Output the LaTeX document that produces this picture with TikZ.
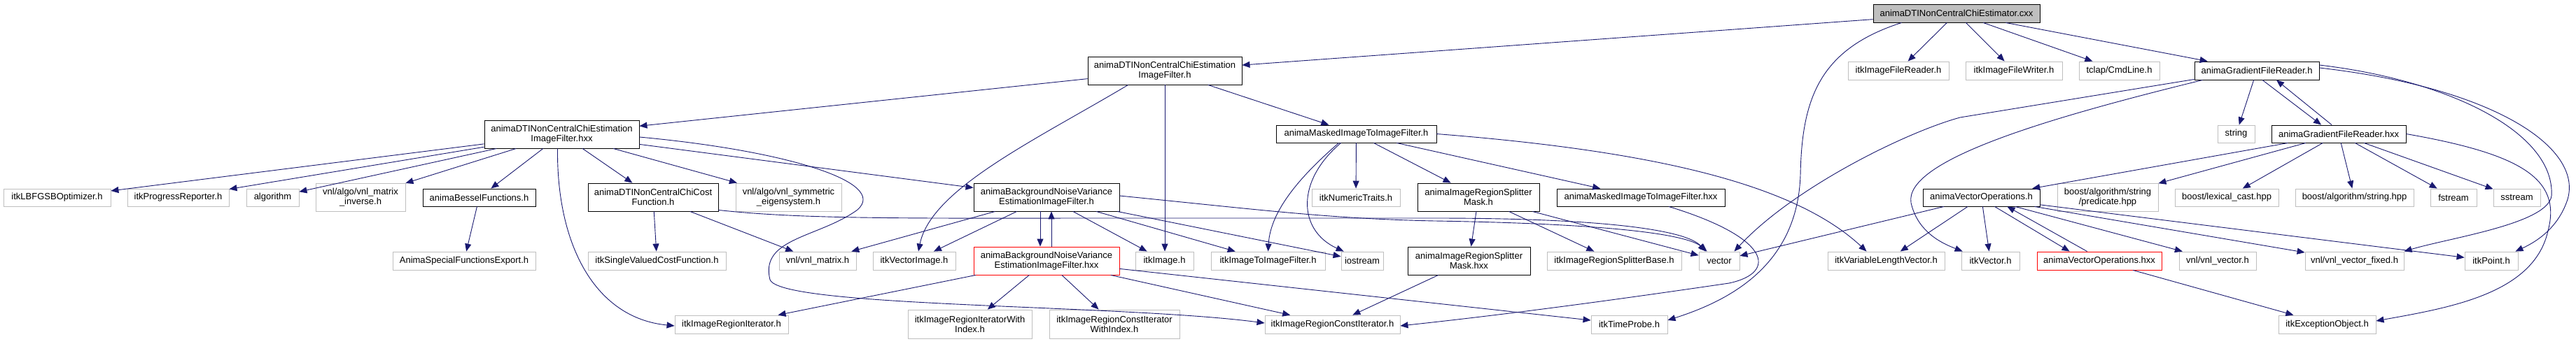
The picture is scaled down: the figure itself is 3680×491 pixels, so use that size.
\documentclass[tikz,border=0pt]{standalone}
\usepackage{fontspec}
\setmainfont{Liberation Sans}
\usetikzlibrary{arrows.meta,calc}
\definecolor{edgeblue}{HTML}{191970}
\definecolor{extgray}{HTML}{BFBFBF}
\definecolor{truncred}{HTML}{FF0000}
\newcommand\mkbox[7]{\node[#1, minimum width={#4-#3}, minimum height={#6-#5}] (#2) at ({(#3+#4)/2},{(#5+#6)/2}) {#7};}
\begin{document}
\begin{tikzpicture}[x=1pt,y=-1pt,
  basebox/.style={rectangle, inner sep=0pt, align=center, font=\fontsize{13}{14}\selectfont, fill=white},
  ext/.style={basebox, draw=extgray, line width=0.9pt},
  doc/.style={basebox, draw=black, line width=0.9pt},
  trunc/.style={basebox, draw=truncred, line width=0.9pt},
  rootbox/.style={basebox, draw=black, line width=0.9pt, fill=extgray},
  dep/.style={draw=edgeblue, line width=0.9pt, -{Triangle[length=11pt,width=9pt]}}]
\useasboundingbox (0,0) rectangle (3680,491);
\fill[white] (0,0) rectangle (3680,491);
% nodes
\mkbox{rootbox}{root}{2676}{2914}{6}{32}{animaDTINonCentralChiEstimator.cxx}
\mkbox{doc}{fh}{1554}{1774}{81}{121}{animaDTINonCentralChiEstimation\\ImageFilter.h}
\mkbox{doc}{fhxx}{692}{913}{172}{212}{animaDTINonCentralChiEstimation\\ImageFilter.hxx}
\mkbox{ext}{lbfgsb}{5}{158}{270}{295}{itkLBFGSBOptimizer.h}
\mkbox{ext}{progress}{182}{327}{270}{295}{itkProgressReporter.h}
\mkbox{ext}{algo}{352}{427}{270}{295}{algorithm}
\mkbox{ext}{vnlinv}{451}{579}{262}{302}{vnl/algo/vnl\_matrix\\\_inverse.h}
\mkbox{doc}{bessel}{604}{765}{270}{295}{animaBesselFunctions.h}
\mkbox{ext}{specexp}{561}{765}{360}{386}{AnimaSpecialFunctionsExport.h}
\mkbox{doc}{cost}{840}{1026}{262}{302}{animaDTINonCentralChiCost\\Function.h}
\mkbox{ext}{singlecost}{840}{1037}{360}{386}{itkSingleValuedCostFunction.h}
\mkbox{ext}{symeig}{1051}{1202}{262}{302}{vnl/algo/vnl\_symmetric\\\_eigensystem.h}
\mkbox{doc}{bnvh}{1391}{1599}{262}{302}{animaBackgroundNoiseVariance\\EstimationImageFilter.h}
\mkbox{trunc}{bnvhxx}{1391}{1599}{353}{393}{animaBackgroundNoiseVariance\\EstimationImageFilter.hxx}
\mkbox{ext}{vnlmat}{1113}{1223}{360}{386}{vnl/vnl\_matrix.h}
\mkbox{ext}{vecimg}{1247}{1365}{360}{386}{itkVectorImage.h}
\mkbox{ext}{itkimg}{1622}{1705}{360}{386}{itkImage.h}
\mkbox{ext}{itoi}{1730}{1893}{360}{386}{itkImageToImageFilter.h}
\mkbox{ext}{iostream}{1916}{1976}{360}{386}{iostream}
\mkbox{ext}{numtraits}{1874}{2000}{270}{295}{itkNumericTraits.h}
\mkbox{ext}{regit}{964}{1126}{451}{477}{itkImageRegionIterator.h}
\mkbox{ext}{regitidx}{1297}{1474}{443}{484}{itkImageRegionIteratorWith\\Index.h}
\mkbox{ext}{regcitidx}{1499}{1685}{443}{484}{itkImageRegionConstIterator\\WithIndex.h}
\mkbox{ext}{regcit}{1807}{2000}{451}{477}{itkImageRegionConstIterator.h}
\mkbox{doc}{mh}{1823}{2052}{179}{204}{animaMaskedImageToImageFilter.h}
\mkbox{doc}{splh}{2025}{2199}{262}{302}{animaImageRegionSplitter\\Mask.h}
\mkbox{doc}{mhxx}{2224}{2464}{270}{295}{animaMaskedImageToImageFilter.hxx}
\mkbox{doc}{splhxx}{2011}{2186}{353}{393}{animaImageRegionSplitter\\Mask.hxx}
\mkbox{ext}{splbase}{2210}{2402}{360}{386}{itkImageRegionSplitterBase.h}
\mkbox{ext}{vector}{2427}{2485}{360}{386}{vector}
\mkbox{ext}{vlv}{2611}{2778}{360}{386}{itkVariableLengthVector.h}
\mkbox{ext}{itkvec}{2802}{2885}{360}{386}{itkVector.h}
\mkbox{ext}{timeprobe}{2273}{2382}{451}{477}{itkTimeProbe.h}
\mkbox{ext}{freader}{2640}{2784}{88}{114}{itkImageFileReader.h}
\mkbox{ext}{fwriter}{2808}{2946}{88}{114}{itkImageFileWriter.h}
\mkbox{ext}{tclap}{2970}{3085}{88}{114}{tclap/CmdLine.h}
\mkbox{doc}{gfrh}{3135}{3313}{88}{114}{animaGradientFileReader.h}
\mkbox{ext}{string}{3168}{3221}{179}{204}{string}
\mkbox{doc}{gfrhxx}{3245}{3437}{179}{204}{animaGradientFileReader.hxx}
\mkbox{doc}{vech}{2747}{2914}{270}{295}{animaVectorOperations.h}
\mkbox{ext}{predicate}{2939}{3083}{262}{302}{boost/algorithm/string\\/predicate.hpp}
\mkbox{ext}{lexcast}{3107}{3255}{270}{295}{boost/lexical\_cast.hpp}
\mkbox{ext}{boostr}{3279}{3448}{270}{295}{boost/algorithm/string.hpp}
\mkbox{ext}{fstream}{3472}{3538}{270}{295}{fstream}
\mkbox{ext}{sstream}{3562}{3629}{270}{295}{sstream}
\mkbox{trunc}{vechxx}{2910}{3088}{360}{386}{animaVectorOperations.hxx}
\mkbox{ext}{vnlvec}{3113}{3223}{360}{386}{vnl/vnl\_vector.h}
\mkbox{ext}{vnlfix}{3293}{3434}{360}{386}{vnl/vnl\_vector\_fixed.h}
\mkbox{ext}{itkpoint}{3521}{3597}{360}{386}{itkPoint.h}
\mkbox{ext}{except}{3255}{3394}{451}{477}{itkExceptionObject.h}
% edges from root
\draw[dep] (root) -- (fh);
\draw[dep] (root) -- (freader);
\draw[dep] (root) -- (fwriter);
\draw[dep] (root) -- (tclap);
\draw[dep] (root) -- (gfrh);
\draw[dep] ($(root.south west)+(41,0)$) .. controls (2600,70) and (2574,140) .. (2572,250) .. controls (2568,380) and (2470,430) .. ($(timeprobe.east)+(0,-6)$);
% fh
\draw[dep] (fh) -- (fhxx);
\draw[dep] ($(fh.south west)+(58,0)$) .. controls (1480,200) and (1330,270) .. ($(vecimg.north)+(6,0)$);
\draw[dep] (fh.south) -- (fh.south |- itkimg.north);
\draw[dep] (fh) -- (mh);
% fhxx
\draw[dep] (fhxx) -- (lbfgsb);
\draw[dep] (fhxx) -- (progress);
\draw[dep] (fhxx) -- (algo);
\draw[dep] (fhxx) -- (vnlinv);
\draw[dep] (fhxx) -- (bessel);
\draw[dep] (fhxx) -- (cost);
\draw[dep] (fhxx) -- (symeig);
\draw[dep] (fhxx) -- (bnvh);
\draw[dep] ($(fhxx.south)+(-6,0)$) .. controls (795,350) and (850,455) .. ($(regit.west)+(0,2)$);
\draw[dep] ($(fhxx.east)+(0,4)$) .. controls (1120,215) and (1270,260) .. (1225,300) .. controls (1170,340) and (1085,340) .. (1100,400) .. controls (1115,440) and (1600,435) .. ($(regcit.west)+(0,-2)$);
% cost, bessel
\draw[dep] (bessel) -- (specexp);
\draw[dep] (cost) -- (singlecost);
\draw[dep] (cost) -- (vnlmat);
\draw[dep] ($(cost.south east)+(0,-2)$) .. controls (1150,314) and (1300,312) .. (1600,312) -- (2050,312) .. controls (2300,312) and (2410,330) .. ($(vector.north west)+(10,0)$);
% bnvh
\draw[dep] ($(bnvh.east)+(0,-2)$) .. controls (1800,300) and (1900,313) .. (2050,316) .. controls (2300,320) and (2410,335) .. ($(vector.north west)+(12,0)$);
\draw[dep] (bnvh) -- (vnlmat);
\draw[dep] (bnvh) -- (vecimg);
\draw[dep] (bnvh) -- (itkimg);
\draw[dep] (bnvh) -- (itoi);
\draw[dep] (bnvh) -- (iostream);
\draw[dep] ($(bnvh.south)+(-9,0)$) -- ($(bnvhxx.north)+(-9,0)$);
\draw[dep] ($(bnvhxx.north)+(7,0)$) -- ($(bnvh.south)+(7,0)$);
\draw[dep] (bnvhxx) -- (regit);
\draw[dep] (bnvhxx) -- (regitidx);
\draw[dep] (bnvhxx) -- (regcitidx);
\draw[dep] (bnvhxx) -- (regcit);
\draw[dep] (bnvhxx) -- (timeprobe);
% mh
\draw[dep] (mh) -- (numtraits);
\draw[dep] ($(mh.south)+(-25,0)$) .. controls (1860,250) and (1815,300) .. (itoi.north);
\draw[dep] ($(mh.south)+(-22,0)$) .. controls (1850,260) and (1855,330) .. ($(iostream.north west)+(4,0)$);
\draw[dep] (mh) -- (splh);
\draw[dep] (mh) -- (mhxx);
\draw[dep] (mh.east) .. controls (2350,215) and (2560,260) .. ($(vlv.north)+(-28,0)$);
\draw[dep] (splh) -- (splhxx);
\draw[dep] (splh) -- (splbase);
\draw[dep] (splh) -- (vector);
\draw[dep] (splhxx) -- (regcit);
\draw[dep] ($(mhxx.south)+(40,0)$) .. controls (2530,340) and (2540,390) .. (2470,405) .. controls (2300,430) and (2150,450) .. ($(regcit.east)+(0,2)$);
% gfrh
\draw[dep] ($(gfrh.south)+(8,0)$) -- ($(gfrhxx.north)+(-25,0)$);
\draw[dep] ($(gfrhxx.north)+(-10,0)$) -- ($(gfrh.south)+(28,0)$);
\draw[dep] (gfrh) -- (string);
\draw[dep] ($(gfrh.south west)+(0,-1)$) -- (2800,168) .. controls (2720,190) and (2560,270) .. ($(vector.north east)+(-8,0)$);
\draw[dep] ($(gfrh.south west)+(12,0)$) .. controls (2920,170) and (2720,230) .. (2730,290) .. controls (2740,335) and (2780,350) .. ($(itkvec.north west)+(2,0)$);
\draw[dep] ($(gfrh.east)+(0,-8)$) .. controls (3500,115) and (3650,190) .. (3645,280) .. controls (3640,320) and (3500,340) .. (vnlfix.north east);
\draw[dep] ($(gfrh.east)+(0,-4)$) .. controls (3560,125) and (3690,210) .. (3668,285) .. controls (3655,325) and (3625,345) .. ($(itkpoint.north east)+(-4,0)$);
\draw[dep] (gfrhxx.east) .. controls (3600,220) and (3660,255) .. (3640,330) .. controls (3620,420) and (3500,440) .. ($(except.east)+(0,-5)$);
\draw[dep] (gfrhxx) -- (vech);
\draw[dep] (gfrhxx) -- (predicate);
\draw[dep] (gfrhxx) -- (lexcast);
\draw[dep] (gfrhxx) -- (boostr);
\draw[dep] (gfrhxx) -- (fstream);
\draw[dep] (gfrhxx) -- (sstream);
% vech
\draw[dep] (vech) -- (vector);
\draw[dep] (vech) -- (vlv);
\draw[dep] (vech) -- (itkvec);
\draw[dep] ($(vech.south)+(19,0)$) -- ($(vechxx.north west)+(47,0)$);
\draw[dep] ($(vechxx.north west)+(72,0)$) -- ($(vech.south)+(37,0)$);
\draw[dep] (vech) -- (vnlvec);
\draw[dep] (vech) -- (vnlfix);
\draw[dep] (vech) -- (itkpoint);
\draw[dep] (vechxx) -- (except);
\end{tikzpicture}
\end{document}
